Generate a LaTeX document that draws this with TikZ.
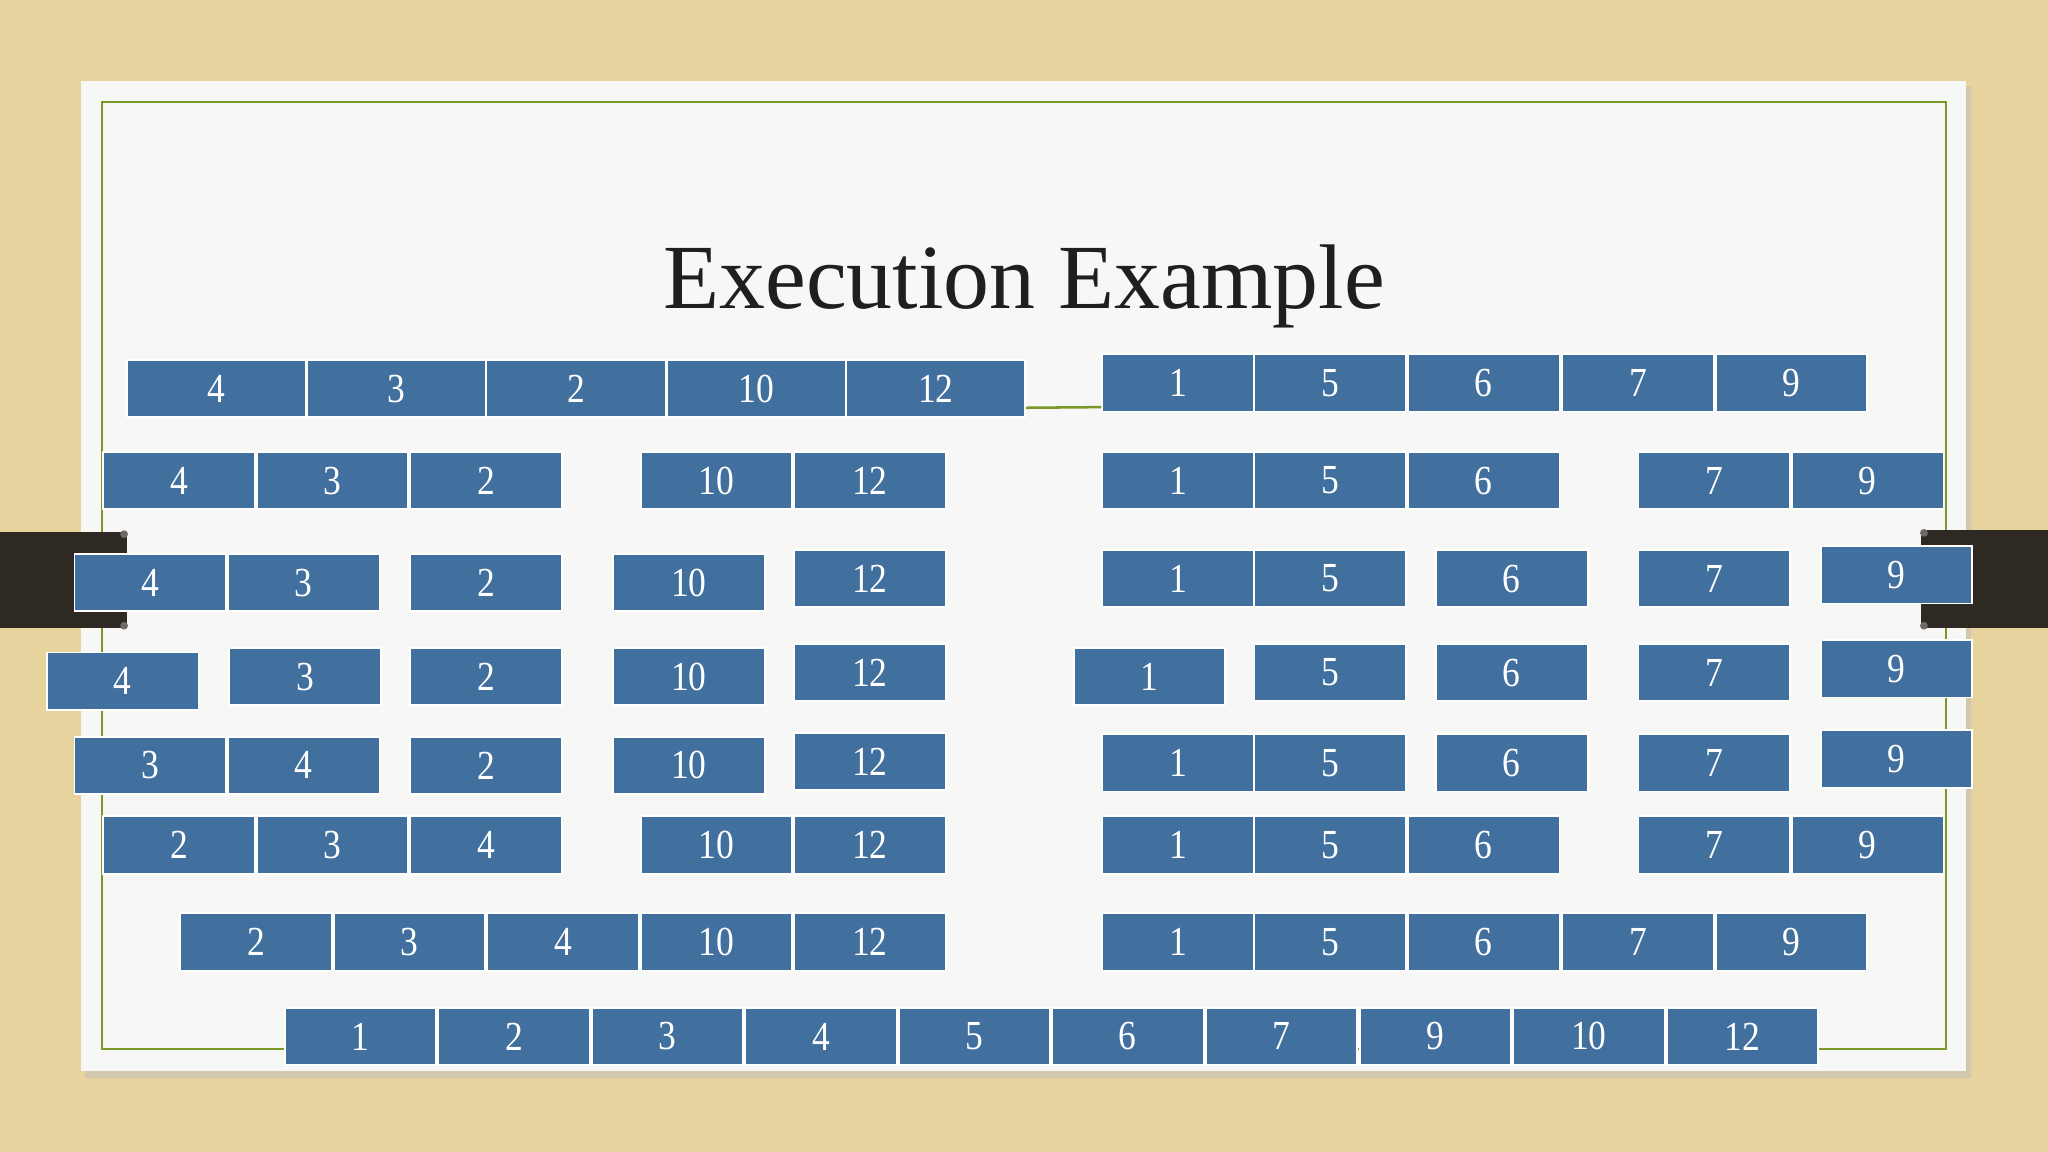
\documentclass[tikz,border=0pt]{standalone}
\usepackage{fontspec}
\setmainfont{Liberation Serif}
\newfontfamily\cellfont[FakeStretch=0.86]{Liberation Serif}
\usepackage{tikz}
\usetikzlibrary{positioning}

\definecolor{paper}{RGB}{231,211,157}
\definecolor{card}{RGB}{247,247,246}
\definecolor{olive}{RGB}{122,152,42}
\definecolor{tab}{RGB}{47,41,35}
\definecolor{cellblue}{RGB}{65,111,158}

\begin{document}
\begin{tikzpicture}[x=0.02cm, y=-0.02cm]
        % slide background, units are pixels from the top left
        \tikzstyle{cell}=[rectangle, fill=cellblue, draw=white, line width=0.8pt, inner sep=0pt,
                minimum width=2.32cm, minimum height=0.88cm, text=white, font=\cellfont\fontsize{18}{20}\selectfont]
        \tikzstyle{widecell}=[cell, minimum width=2.74cm]
        \tikzstyle{rule}=[draw=olive, line width=1.1pt]

        \useasboundingbox (0,0) rectangle (1568,882);
        \fill[paper] (0,0) rectangle (1568,882);
        \fill[black!25, opacity=0.5] (65,66) rectangle (1509,825);
        \fill[card] (62,62) rectangle (1505,820);
        \draw[rule] (78,78) rectangle (1490,803);

        % the two clips at the sides
        \fill[tab] (0,407) rectangle (97,481);
        \fill[tab!70] (95,409) circle (3) (95,479) circle (3);
        \fill[tab] (1471,406) rectangle (1568,481);
        \fill[tab!70] (1473,408) circle (3) (1473,479) circle (3);

        \node[font=\fontsize{40}{44}\selectfont, text=black!88, anchor=base] (title) at (784,236) {Execution Example};

        % row a
        \node[widecell] (a4) at (166,297.5) {4};
        \node[widecell] (a3) at (303.5,297.5) {3};
        \node[widecell] (a2) at (441,297.5) {2};
        \node[widecell] (a10) at (579,297.5) {10};
        \node[widecell] (a12) at (716.5,297.5) {12};
        \node[cell] (a1) at (902,293) {1};
        \node[cell] (a5) at (1018.5,293) {5};
        \node[cell] (a6) at (1136,293) {6};
        \node[cell] (a7) at (1254,293) {7};
        \node[cell] (a9) at (1371.5,293) {9};

        \draw[rule] ([yshift=0.16cm]a12.south east) -- ([yshift=0.08cm]a1.south west);

        % row b
        \node[cell] (b4) at (137,368) {4};
        \node[cell] (b3) at (254.5,368) {3};
        \node[cell] (b2) at (372,368) {2};
        \node[cell] (b10) at (548.5,368) {10};
        \node[cell] (b12) at (666,368) {12};
        \node[cell] (b1) at (902,368) {1};
        \node[cell] (b5) at (1018.5,368) {5};
        \node[cell] (b6) at (1136,368) {6};
        \node[cell] (b7) at (1312.5,368) {7};
        \node[cell] (b9) at (1430,368) {9};

        % row c
        \node[cell] (c4) at (115,446) {4};
        \node[cell] (c3) at (232.5,446) {3};
        \node[cell] (c2) at (372,446) {2};
        \node[cell] (c10) at (527.5,446) {10};
        \node[cell] (c12) at (666,443) {12};
        \node[cell] (c1) at (902,443) {1};
        \node[cell] (c5) at (1018.5,443) {5};
        \node[cell] (c6) at (1157.5,443) {6};
        \node[cell] (c7) at (1312.5,443) {7};
        \node[cell] (c9) at (1452,440) {9};

        % row d
        \node[cell] (d4) at (94,521.5) {4};
        \node[cell] (d3) at (233.5,518) {3};
        \node[cell] (d2) at (372,518) {2};
        \node[cell] (d10) at (527.5,518) {10};
        \node[cell] (d12) at (666,515) {12};
        \node[cell] (d1) at (880,518) {1};
        \node[cell] (d5) at (1018.5,515) {5};
        \node[cell] (d6) at (1157.5,515) {6};
        \node[cell] (d7) at (1312.5,515) {7};
        \node[cell] (d9) at (1452,512) {9};

        % row e
        \node[cell] (e3) at (115,586) {3};
        \node[cell] (e4) at (232.5,586) {4};
        \node[cell] (e2) at (372,586) {2};
        \node[cell] (e10) at (527.5,586) {10};
        \node[cell] (e12) at (666,583) {12};
        \node[cell] (e1) at (902,584) {1};
        \node[cell] (e5) at (1018.5,584) {5};
        \node[cell] (e6) at (1157.5,584) {6};
        \node[cell] (e7) at (1312.5,584) {7};
        \node[cell] (e9) at (1452,581) {9};

        % row f
        \node[cell] (f2) at (137,647) {2};
        \node[cell] (f3) at (254.5,647) {3};
        \node[cell] (f4) at (372,647) {4};
        \node[cell] (f10) at (548.5,647) {10};
        \node[cell] (f12) at (666,647) {12};
        \node[cell] (f1) at (902,647) {1};
        \node[cell] (f5) at (1018.5,647) {5};
        \node[cell] (f6) at (1136,647) {6};
        \node[cell] (f7) at (1312.5,647) {7};
        \node[cell] (f9) at (1430,647) {9};

        % row g
        \node[cell] (g2) at (196,721) {2};
        \node[cell] (g3) at (313.5,721) {3};
        \node[cell] (g4) at (431,721) {4};
        \node[cell] (g10) at (548.5,721) {10};
        \node[cell] (g12) at (666,721) {12};
        \node[cell] (g1) at (902,721) {1};
        \node[cell] (g5) at (1018.5,721) {5};
        \node[cell] (g6) at (1136,721) {6};
        \node[cell] (g7) at (1254,721) {7};
        \node[cell] (g9) at (1371.5,721) {9};

        % row h, the sorted list
        \node[cell] (h1) at (276,793.5) {1};
        \node[cell] (h2) at (393.5,793.5) {2};
        \node[cell] (h3) at (511,793.5) {3};
        \node[cell] (h4) at (628.5,793.5) {4};
        \node[cell] (h5) at (746,793.5) {5};
        \node[cell] (h6) at (863.5,793.5) {6};
        \node[cell] (h7) at (981,793.5) {7};
        \node[cell] (h9) at (1099,793.5) {9};
        \node[cell] (h10) at (1216.5,793.5) {10};
        \node[cell] (h12) at (1334,793.5) {12};
      \end{tikzpicture}
\end{document}
